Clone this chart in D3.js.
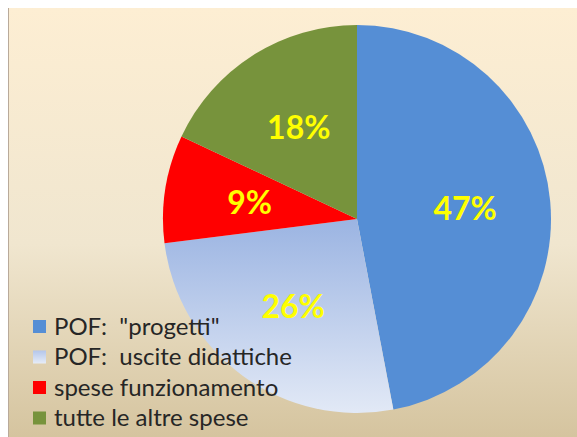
<!DOCTYPE html>
<meta charset="utf-8">
<script src="https://d3js.org/d3.v7.min.js"></script>
<style>
  body { margin: 0; background: #fff; }
</style>
<body>
<div id="my_dataviz"></div>
<script>

// categories, values, colours
var categories = ['POF:  "progetti"', "POF:  uscite didattiche", "spese funzionamento", "tutte le altre spese"];
var values = [47, 26, 9, 18];
var labels = ["47%", "26%", "9%", "18%"];
var colors = ["#558ed5", "url(#lightblue)", "#ff0000", "#77933c"];
var legendColors = ["#558ed5", "url(#lightblueKey)", "#ff0000", "#77933c"];

var width = 577, height = 437;

var svg = d3.select("#my_dataviz")
  .append("svg")
  .attr("width", width)
  .attr("height", height);

var defs = svg.append("defs");

// background gradient of the chart area
var bg = defs.append("linearGradient")
  .attr("id", "bg")
  .attr("x1", 0).attr("y1", 0).attr("x2", 0).attr("y2", 1);
bg.append("stop").attr("offset", "0%").attr("stop-color", "#fdeed3");
bg.append("stop").attr("offset", "55%").attr("stop-color", "#f0e6cf");
bg.append("stop").attr("offset", "100%").attr("stop-color", "#d5c49f");

// pie
var cx = 357, cy = 219, radius = 194;

// the light blue slice fades to white at the bottom (coords inside the pie group)
var lb = defs.append("linearGradient")
  .attr("id", "lightblue")
  .attr("gradientUnits", "userSpaceOnUse")
  .attr("x1", 0).attr("y1", 0).attr("x2", 0).attr("y2", radius);
lb.append("stop").attr("offset", "0%").attr("stop-color", "#9bb4e2");
lb.append("stop").attr("offset", "100%").attr("stop-color", "#e2e9f6");

var lbk = defs.append("linearGradient")
  .attr("id", "lightblueKey")
  .attr("x1", 0).attr("y1", 0).attr("x2", 0).attr("y2", 1);
lbk.append("stop").attr("offset", "0%").attr("stop-color", "#b4c6ea");
lbk.append("stop").attr("offset", "100%").attr("stop-color", "#e6ecf7");

svg.append("rect")
  .attr("x", 8).attr("y", 8)
  .attr("width", width - 8).attr("height", height - 8)
  .attr("fill", "url(#bg)");
svg.append("line")
  .attr("x1", 8.5).attr("x2", 8.5).attr("y1", 8).attr("y2", height)
  .attr("stroke", "#b9aa9a").attr("stroke-width", 1);

var pie = d3.pie().sort(null).value(function(d) { return d; });
var arc = d3.arc().innerRadius(0).outerRadius(radius);
var labelArc = d3.arc().innerRadius(radius * 0.56).outerRadius(radius * 0.56);

var g = svg.append("g")
  .attr("transform", "translate(" + cx + "," + cy + ")");

var arcs = pie(values);

g.selectAll("path")
  .data(arcs)
  .enter()
  .append("path")
  .attr("d", arc)
  .attr("fill", function(d, i) { return colors[i]; });

g.selectAll("text")
  .data(arcs)
  .enter()
  .append("text")
  .attr("transform", function(d) { return "translate(" + labelArc.centroid(d) + ")"; })
  .attr("text-anchor", "middle")
  .attr("dy", "0.36em")
  .attr("font-family", "Lato, sans-serif")
  .attr("font-weight", "bold")
  .attr("font-size", "32px")
  .attr("fill", "#ffff00")
  .text(function(d, i) { return labels[i]; });

// legend
var legend = svg.append("g")
  .attr("transform", "translate(33,320)");

var row = legend.selectAll("g")
  .data(categories)
  .enter()
  .append("g")
  .attr("transform", function(d, i) { return "translate(0," + (i * 30.5) + ")"; });

row.append("rect")
  .attr("width", 13).attr("height", 13)
  .attr("fill", function(d, i) { return legendColors[i]; });

row.append("text")
  .attr("x", 21)
  .attr("y", 6)
  .attr("dy", "0.36em")
  .attr("font-family", "Lato, sans-serif")
  .attr("font-size", "24px")
  .attr("fill", "#262626")
  .style("white-space", "pre")
  .text(function(d) { return d; });

</script>
</body>
